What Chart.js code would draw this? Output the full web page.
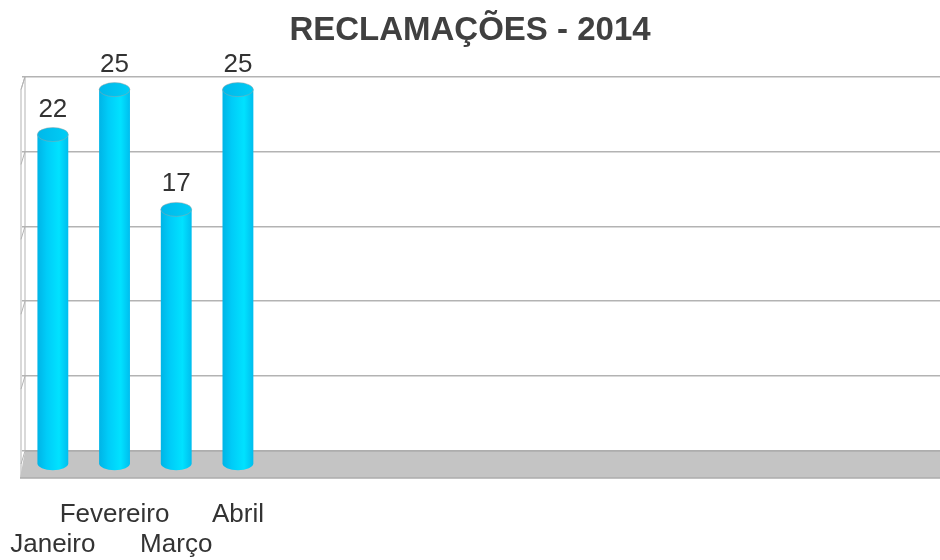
<!DOCTYPE html>
<html>
<head>
<meta charset="utf-8">
<script src="https://cdn.jsdelivr.net/npm/chart.js@4/dist/chart.umd.min.js"></script>
<style>
    html, body { margin: 0; padding: 0; background: #fff; }
    #wrap { width: 940px; height: 560px; }
</style>
</head>
<body>
<div id="wrap"><canvas id="chart"></canvas></div>
<script>
const categories = ['Janeiro', 'Fevereiro', 'Março', 'Abril'];
const values = [22, 25, 17, 25];
const yTicks = [0, 5, 10, 15, 20, 25];

// fake 3D: depth offset of the bars in front of the back wall
const DEPTH = 13;

function drawCylinder(ctx, x, top, base, w) {
    const rx = w / 2, ry = 7;
    let g = ctx.createLinearGradient(x - rx, 0, x + rx, 0);
    g.addColorStop(0, '#00b4e6');
    g.addColorStop(0.3, '#00ccf8');
    g.addColorStop(0.7, '#00e2ff');
    g.addColorStop(1, '#00bdee');
    ctx.beginPath();
    ctx.moveTo(x - rx, top);
    ctx.lineTo(x - rx, base);
    ctx.ellipse(x, base, rx, ry, 0, Math.PI, 0, true);
    ctx.lineTo(x + rx, top);
    ctx.closePath();
    ctx.fillStyle = g;
    ctx.fill();

    let t = ctx.createLinearGradient(x - rx, 0, x + rx, 0);
    t.addColorStop(0, '#00b8ea');
    t.addColorStop(1, '#00cdf5');
    ctx.beginPath();
    ctx.ellipse(x, top, rx, ry, 0, 0, Math.PI * 2);
    ctx.fillStyle = t;
    ctx.fill();
    ctx.strokeStyle = 'rgba(160,160,160,0.6)';
    ctx.lineWidth = 0.8;
    ctx.stroke();
}

const fake3d = {
    id: 'fake3d',
    beforeDatasetsDraw(chart) {
        const ctx = chart.ctx;
        const area = chart.chartArea;
        const y0 = chart.scales.y.getPixelForValue(0);
        const back = area.left + 3;
        const front = area.left - 1;
        ctx.save();
        // side wall
        ctx.strokeStyle = '#b3b3b3';
        ctx.lineWidth = 1;
        ctx.beginPath();
        ctx.moveTo(back, area.top);
        ctx.lineTo(back, y0);
        ctx.moveTo(back, area.top);
        ctx.lineTo(front, area.top + DEPTH);
        ctx.lineTo(front, y0 + 2 * DEPTH);
        yTicks.forEach(t => {
            const py = chart.scales.y.getPixelForValue(t);
            ctx.moveTo(back, py);
            ctx.lineTo(front, py + DEPTH);
        });
        ctx.stroke();
        // floor
        ctx.beginPath();
        ctx.moveTo(back, y0);
        ctx.lineTo(area.right, y0);
        ctx.lineTo(area.right, y0 + 2 * DEPTH + 1);
        ctx.lineTo(front - 1, y0 + 2 * DEPTH + 1);
        ctx.closePath();
        ctx.fillStyle = '#c4c4c4';
        ctx.fill();
        ctx.strokeStyle = '#acacac';
        ctx.lineWidth = 1.5;
        ctx.beginPath();
        ctx.moveTo(back, y0);
        ctx.lineTo(area.right, y0);
        ctx.moveTo(front - 1, y0 + 2 * DEPTH + 1);
        ctx.lineTo(area.right, y0 + 2 * DEPTH + 1);
        ctx.stroke();
        ctx.restore();
    },
    afterDatasetsDraw(chart) {
        const ctx = chart.ctx;
        const meta = chart.getDatasetMeta(0);
        ctx.save();
        meta.data.forEach((bar, i) => {
            const p = bar.getProps(['x', 'y', 'base', 'width'], true);
            const top = p.y + DEPTH;
            drawCylinder(ctx, p.x, top, p.base + DEPTH, p.width);
            ctx.fillStyle = '#333';
            ctx.font = '26px "Liberation Sans", Arial, sans-serif';
            ctx.textAlign = 'center';
            ctx.textBaseline = 'alphabetic';
            ctx.fillText(String(values[i]), p.x, top - 18);
        });
        ctx.restore();
    }
};

new Chart(document.getElementById('chart'), {
    type: 'bar',
    data: {
        datasets: [{
            data: values.map((v, i) => ({x: i, y: v})),
            backgroundColor: 'rgba(0,0,0,0)',
            borderWidth: 0,
            barPercentage: 0.5,
            categoryPercentage: 1
        }]
    },
    options: {
        responsive: true,
        maintainAspectRatio: false,
        animation: false,
        layout: {
            padding: 0
        },
        scales: {
            x: {
                type: 'linear',
                offset: false,
                min: -0.5,
                max: 14.38,
                grid: {display: false, drawTicks: false},
                border: {display: false},
                afterBuildTicks: scale => {
                    scale.ticks = categories.map((c, i) => ({value: i}));
                },
                afterFit: scale => {
                    scale.height = 109;
                    scale.paddingLeft = 0;
                    scale.paddingRight = 0;
                },
                ticks: {
                    autoSkip: false,
                    maxRotation: 0,
                    padding: 49,
                    color: '#333',
                    font: {family: '"Liberation Sans", Arial, sans-serif', size: 26, lineHeight: '30px'},
                    callback: v => v % 2 ? [categories[v], ''] : ['', categories[v]]
                }
            },
            y: {
                min: 0,
                max: 25,
                afterFit: scale => {
                    scale.width = 22;
                },
                ticks: {display: false, stepSize: 5},
                grid: {color: '#b3b3b3', lineWidth: 1.5, drawTicks: false},
                border: {display: false}
            }
        },
        plugins: {
            legend: {display: false},
            tooltip: {enabled: false},
            title: {
                display: true,
                text: 'RECLAMAÇÕES - 2014',
                color: '#404040',
                font: {family: '"Liberation Sans", Arial, sans-serif', size: 33, weight: 'bold'},
                padding: {top: 11, bottom: 26}
            }
        }
    },
    plugins: [fake3d]
});
</script>
</body>
</html>
